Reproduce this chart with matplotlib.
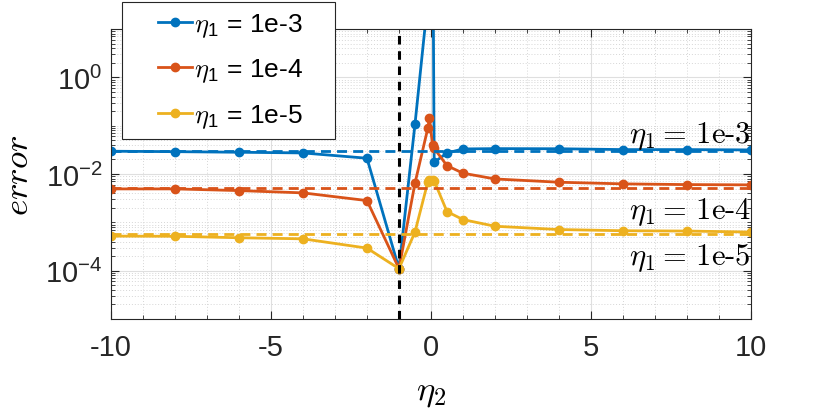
import numpy as np
import matplotlib
matplotlib.use("Agg")
import matplotlib.pyplot as plt
from matplotlib.legend_handler import HandlerLine2D
from matplotlib.ticker import FixedLocator, FuncFormatter, MultipleLocator, NullFormatter

plt.rcParams['font.family'] = ['Liberation Sans', 'DejaVu Sans']
plt.rcParams['mathtext.fontset'] = 'cm'
plt.rcParams['axes.unicode_minus'] = False

# eta_2 sample points
eta2 = [-10, -8, -6, -4, -2, -1, -0.5, -0.1, -0.05, 0.05, 0.1, 0.5, 1, 2, 4, 6, 8, 10]

# error for each eta_1
err_1e3 = [0.0296, 0.0290, 0.0282, 0.0273, 0.0212, 1.1e-4, 0.107, 39.0, 1e4, 1e4,
           0.0175, 0.0272, 0.0330, 0.0335, 0.0333, 0.0320, 0.0320, 0.0315]
err_1e4 = [0.00492, 0.00492, 0.00454, 0.00407, 0.00282, 1.1e-4, 0.00645, 0.088, 0.142, 0.040,
           0.034, 0.0149, 0.0104, 0.0079, 0.00676, 0.00625, 0.00604, 0.00596]
err_1e5 = [5.19e-4, 5.15e-4, 4.80e-4, 4.56e-4, 2.93e-4, 1.1e-4, 6.3e-4, 6.8e-3, 7.5e-3, 7.5e-3,
           7.2e-3, 1.67e-3, 1.14e-3, 8.3e-4, 7.1e-4, 6.7e-4, 6.6e-4, 6.3e-4]

# reference levels (dashed)
ref_levels = [0.0305, 0.00524, 5.7e-4]
eta1_labels = ['1e-3', '1e-4', '1e-5']
colors = ['#0072BD', '#D95319', '#EDB120']


class ShortLine(HandlerLine2D):
    """matlab-ish legend icon: short line pushed to the right of the handle box"""
    def create_artists(self, legend, orig_handle, xdescent, ydescent, width, height,
                       fontsize, trans):
        short = 0.55 * width
        return super().create_artists(legend, orig_handle, xdescent - (width - short),
                                      ydescent, short, height, fontsize, trans)


fig = plt.figure(figsize=(8.3, 4.1), dpi=100)
ax = fig.add_axes([0.1337, 0.2195, 0.7711, 0.7073])

series = [err_1e3, err_1e4, err_1e5]
for vals, lab, c in zip(series, eta1_labels, colors):
    # trailing blanks give the wide right margin of the matlab legend box
    ax.plot(eta2, vals, '-o', color=c, lw=2, ms=6,
            label=r'$\eta_{\mathregular{1}}$ = ' + lab + '    ')

for lvl, c in zip(ref_levels, colors):
    ax.axhline(lvl, color=c, lw=2, linestyle=(0, (3.6, 2.2)))

ax.axvline(-1, color='k', lw=2.2, linestyle=(0, (2.8, 2.2)))

ax.set_yscale('log')
ax.set_xlim(-10, 10)
ax.set_ylim(1e-5, 1e1)

ax.xaxis.set_major_locator(FixedLocator([-10, -5, 0, 5, 10]))
ax.xaxis.set_minor_locator(MultipleLocator(1))
ax.yaxis.set_major_locator(FixedLocator([1e-4, 1e-2, 1e0]))
minor_y = [s * 10.0 ** d for d in range(-5, 1) for s in range(1, 10)
           if not (s == 1 and d in (-4, -2, 0))]
ax.yaxis.set_minor_locator(FixedLocator(minor_y + [10.0]))
ax.yaxis.set_minor_formatter(NullFormatter())
ax.yaxis.set_major_formatter(FuncFormatter(
    lambda v, p: r'$\mathregular{10^{%d}}$' % int(round(np.log10(v)))))

ax.tick_params(which='both', direction='in', top=True, right=True,
               color='#262626', labelsize=21, labelcolor='#262626')
ax.tick_params(which='major', length=6, width=0.8)
ax.tick_params(which='minor', length=3, width=0.6)
ax.tick_params(axis='x', pad=10)
ax.tick_params(axis='y', pad=6)

ax.grid(which='major', color='#dfdfdf', lw=0.8)
ax.grid(which='minor', color='#d6d6d6', lw=0.7, linestyle=(0, (1, 2)))
ax.set_axisbelow(True)
for sp in ax.spines.values():
    sp.set_color('#262626')
    sp.set_linewidth(0.8)

ax.set_xlabel(r'$\eta_2$', fontsize=25, labelpad=10)
ax.set_ylabel(r'$error$', fontsize=25)
ax.yaxis.set_label_coords(-0.118, 0.5)

# annotations at the right edge (baseline positions)
ann_y = [0.0454, 0.00122, 1.39e-4]
for lab, yv in zip(eta1_labels, ann_y):
    ax.text(10, yv, r'$\eta_1 =\,$' + lab, ha='right', va='baseline',
            fontsize=22, family='cmr10')

leg = ax.legend(loc='upper left', bbox_to_anchor=(0.0167, 1.094), borderaxespad=0,
                fontsize=19, frameon=True, fancybox=False, framealpha=1,
                edgecolor='#262626', handlelength=2.3, handletextpad=0.1,
                labelspacing=0.68, borderpad=0.35,
                handler_map={plt.Line2D: ShortLine()})
leg.get_frame().set_linewidth(0.8)
leg.set_zorder(5)

fig.savefig('out.png', dpi=100)
